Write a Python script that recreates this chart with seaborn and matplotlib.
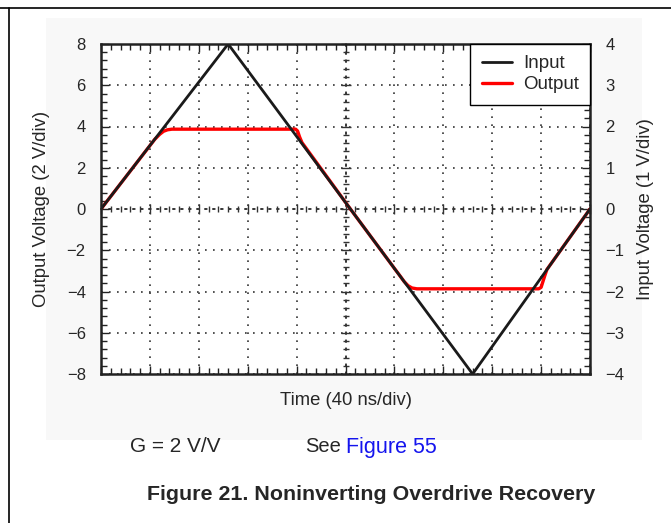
import numpy as np
import pandas as pd
import matplotlib
matplotlib.use("Agg")
import matplotlib.pyplot as plt
from matplotlib.patches import Rectangle
from matplotlib.ticker import MultipleLocator, NullFormatter
import seaborn as sns

sns.set_theme(style="white")
plt.rcParams['font.family'] = ['Liberation Sans', 'DejaVu Sans']

# time in divisions (40 ns/div), voltage on the left (2 V/div) scale
input_t = [0.0, 2.6, 7.6, 10.0]
input_v = [0.0, 8.0, -8.0, 0.0]

output_t = [0.0, 1.10, 1.20, 1.28, 1.36, 1.45, 3.98, 4.02, 4.06, 4.11,
            5.10, 6.00, 6.12, 6.20, 6.28, 6.36, 6.46, 8.95, 9.00, 9.04,
            9.08, 9.12, 10.0]
output_v = [0.0, 3.38, 3.62, 3.77, 3.84, 3.87, 3.87, 3.78, 3.50, 3.22,
            0.0, -2.88, -3.26, -3.52, -3.72, -3.83, -3.87, -3.87, -3.80, -3.50,
            -3.20, -2.93, 0.0]

left_ticks = [-8, -6, -4, -2, 0, 2, 4, 6, 8]
right_ticks = [-4, -3, -2, -1, 0, 1, 2, 3, 4]

df_in = pd.DataFrame({'t': input_t, 'v': input_v})
df_out = pd.DataFrame({'t': output_t, 'v': output_v})

W, H = 671, 523
fig = plt.figure(figsize=(W / 100, H / 100), dpi=100)
fig.patch.set_facecolor('white')

# light grey panel behind the chart
fig.patches.append(Rectangle((46 / W, 1 - 440 / H), (642 - 46) / W, (440 - 18) / H,
                             transform=fig.transFigure, facecolor='#f8f8f8',
                             edgecolor='none', zorder=-1))
# page border lines
fig.add_artist(plt.Line2D([0, 1], [1 - 7.5 / H, 1 - 7.5 / H], color='black', lw=1.2,
                          transform=fig.transFigure))
fig.add_artist(plt.Line2D([8.5 / W, 8.5 / W], [0, 1 - 7.5 / H], color='black', lw=1.2,
                          transform=fig.transFigure))

rect = [101 / W, 1 - 374 / H, 489 / W, 330 / H]
dot = (0, (1, 3.8))
spine_col = '#222222'

# bottom layer: white plot area, dotted graticule and centre cross with ticks
ax3 = fig.add_axes(rect)
ax3.set_facecolor('white')
ax3.set_xlim(0, 10)
ax3.set_ylim(-8, 8)
ax3.xaxis.set_major_locator(MultipleLocator(1))
ax3.xaxis.set_minor_locator(MultipleLocator(0.2))
ax3.yaxis.set_major_locator(MultipleLocator(2))
ax3.yaxis.set_minor_locator(MultipleLocator(0.4))
ax3.grid(True, which='major', color='#333333', linestyle=dot, linewidth=1.2)
for s in ['top', 'right']:
    ax3.spines[s].set_visible(False)
ax3.spines['left'].set_position(('data', 5))
ax3.spines['bottom'].set_position(('data', 0))
for s in ['left', 'bottom']:
    ax3.spines[s].set_linestyle(dot)
    ax3.spines[s].set_linewidth(1.2)
    ax3.spines[s].set_color('#333333')
ax3.tick_params(which='major', direction='inout', length=7, width=1, color='#333333',
                labelbottom=False, labelleft=False, left=True, bottom=True)
ax3.tick_params(which='minor', direction='inout', length=4.5, width=1, color='#333333',
                left=True, bottom=True)

# right axis (1 V/div)
ax2 = fig.add_axes(rect, sharex=ax3)
ax2.patch.set_visible(False)
ax2.set_ylim(-4, 4)
ax2.set_yticks(right_ticks)
ax2.yaxis.set_minor_locator(MultipleLocator(0.2))
ax2.yaxis.tick_right()
ax2.yaxis.set_label_position('right')
ax2.tick_params(axis='y', which='both', direction='in', right=True, left=False,
                color=spine_col, width=1, labelsize=12, pad=11)
ax2.tick_params(axis='y', which='major', length=6)
ax2.tick_params(axis='y', which='minor', length=4)
ax2.tick_params(axis='x', which='both', bottom=False, labelbottom=False)
for s in ax2.spines.values():
    s.set_visible(False)
ax2.set_ylabel('Input Voltage (1 V/div)', fontsize=13.3, labelpad=9)

# main axes with the traces
ax = fig.add_axes(rect)
ax.patch.set_visible(False)
sns.lineplot(data=df_out, x='t', y='v', ax=ax, color='#ff0000', linewidth=2.4,
             estimator=None, sort=False, label='Output')
sns.lineplot(data=df_in, x='t', y='v', ax=ax, color='#1a1a1a', linewidth=2.0,
             estimator=None, sort=False, label='Input')
ax.set_xlim(0, 10)
ax.set_ylim(-8, 8)
ax.set_yticks(left_ticks)
ax.xaxis.set_major_locator(MultipleLocator(1))
ax.xaxis.set_minor_locator(MultipleLocator(0.2))
ax.xaxis.set_major_formatter(NullFormatter())
ax.yaxis.set_minor_locator(MultipleLocator(0.4))
ax.tick_params(which='both', direction='in', top=True, bottom=True, left=True,
               right=False, color=spine_col, width=1)
ax.tick_params(which='major', length=6, labelsize=12, pad=11)
ax.tick_params(which='minor', length=4)
for s in ax.spines.values():
    s.set_linewidth(1.8)
    s.set_color(spine_col)
ax.set_xlabel('Time (40 ns/div)', fontsize=13.3, labelpad=2)
ax.set_ylabel('Output Voltage (2 V/div)', fontsize=13.3, labelpad=12)

handles, labels = ax.get_legend_handles_labels()
order = [labels.index('Input'), labels.index('Output')]
leg = ax.legend([handles[i] for i in order], [labels[i] for i in order],
                loc='upper right', borderaxespad=0, fancybox=False, framealpha=1,
                edgecolor='black', fontsize=13.5, handlelength=1.6,
                handletextpad=0.6, borderpad=0.6, labelspacing=0.2)
leg.get_frame().set_linewidth(1.0)

ax2.set_zorder(1)
ax.set_zorder(2)

# notes under the chart
fig.text(130 / W, 1 - 447 / H, 'G = 2 V/V', fontsize=15, va='center', ha='left')
fig.text(305 / W, 1 - 447 / H, 'See', fontsize=14.5, va='center', ha='left')
fig.text(346 / W, 1 - 447 / H, 'Figure 55', fontsize=15.5, va='center', ha='left',
         color='#1515ee')
fig.text(371 / W, 1 - 494 / H, 'Figure 21. Noninverting Overdrive Recovery',
         fontsize=15.4, fontweight='bold', va='center', ha='center')

fig.savefig('out.png', dpi=100)
plt.close(fig)
